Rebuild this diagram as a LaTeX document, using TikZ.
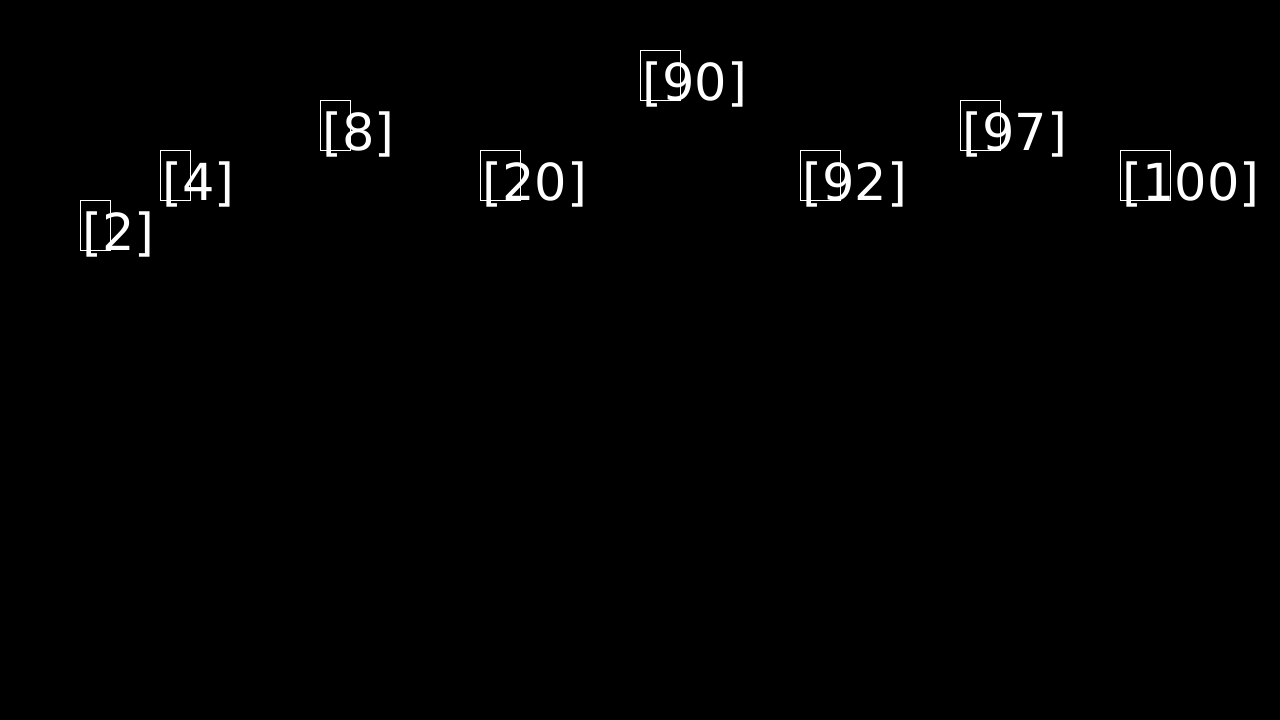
\documentclass[tikz,border=0pt]{standalone}
\usepackage{fontspec}
\setmainfont{DejaVu Sans}
\begin{document}
\begin{tikzpicture}[x=1pt,y=1pt,
  box/.style={draw=white, line width=0.9pt, inner sep=0pt, outer sep=0pt, minimum height=50pt, anchor=north west},
  lbl/.style={text=white, font=\fontsize{51}{51}\selectfont, inner sep=0pt, outer sep=0pt, anchor=base west}]
\useasboundingbox (0,0) rectangle (1280,-720);
\fill[black] (0,0) rectangle (1280,-720);
\begin{scope}
\clip (0,0) rectangle (1280,-720);
\foreach \nm/\px/\py/\w/\txt in {root/880/-56/20/{[]}, n2/80/200/30/{[2]}, n4/160/150/30/{[4]}, n8/320/100/30/{[8]}, n20/480/150/40/{[20]}, n90/640/50/40/{[90]}, n92/800/150/40/{[92]}, n97/960/100/40/{[97]}, n100/1120/150/50/{[100]}}{
  \node[box, minimum width=\w pt] (b\nm) at (\px,-\py) {};
  \node[lbl] (t\nm) at (\px+2.5,-\py-50) {\txt};
}
\end{scope}
\end{tikzpicture}
\end{document}
